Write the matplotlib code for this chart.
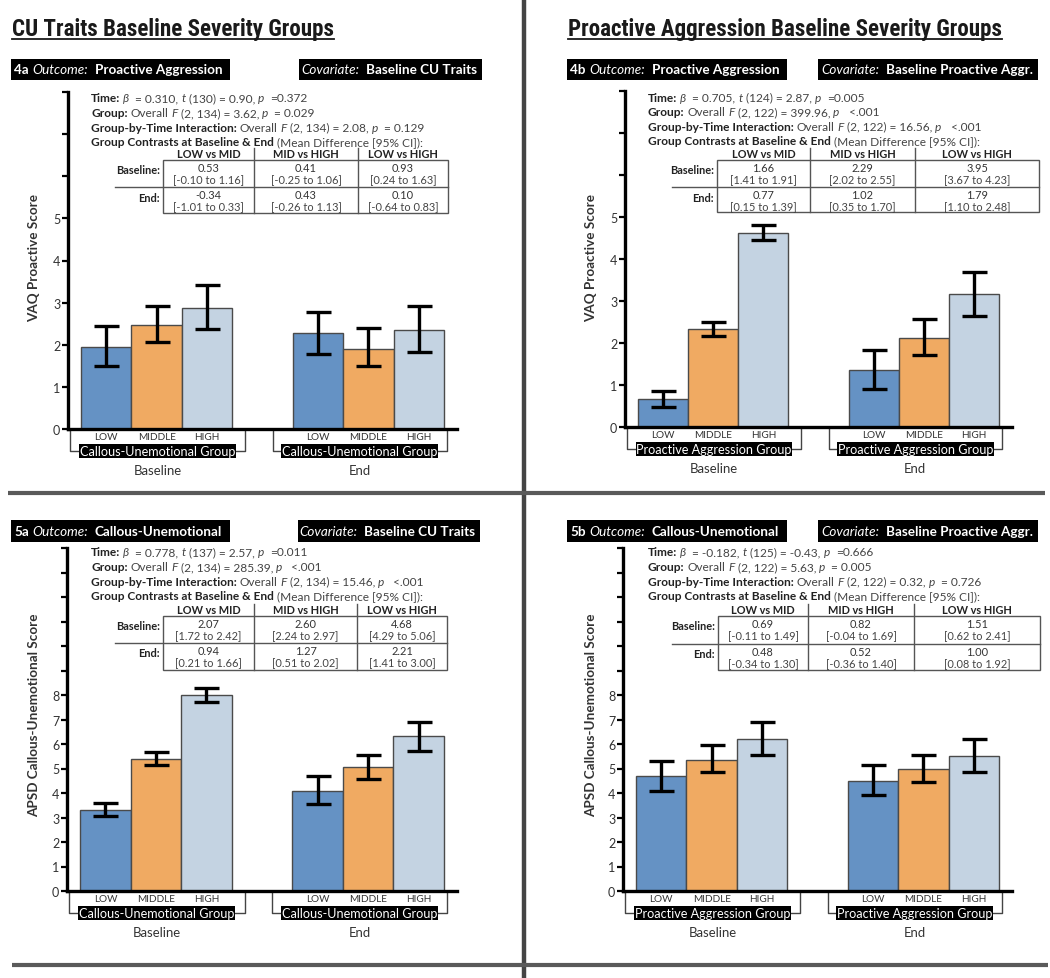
import re
import numpy as np
import matplotlib
matplotlib.use('Agg')
import matplotlib.pyplot as plt
from matplotlib import font_manager as fm
from matplotlib.font_manager import FontProperties
from matplotlib.transforms import Affine2D, blended_transform_factory
from matplotlib.patches import Rectangle

# ---------------- data ----------------
groups = ['LOW', 'MIDDLE', 'HIGH']
contrasts = ['LOW vs MID', 'MID vs HIGH', 'LOW vs HIGH']
periods = ['Baseline', 'End']

# 4a  proactive aggression by CU groups
pa_cu_base = [1.95, 2.48, 2.87]
pa_cu_base_lo = [1.49, 2.07, 2.37]
pa_cu_base_hi = [2.45, 2.93, 3.42]
pa_cu_end = [2.27, 1.91, 2.36]
pa_cu_end_lo = [1.77, 1.49, 1.83]
pa_cu_end_hi = [2.78, 2.39, 2.92]

# 4b  proactive aggression by PA groups
pa_pa_base = [0.66, 2.33, 4.62]
pa_pa_base_lo = [0.48, 2.16, 4.45]
pa_pa_base_hi = [0.86, 2.50, 4.80]
pa_pa_end = [1.36, 2.13, 3.17]
pa_pa_end_lo = [0.91, 1.71, 2.64]
pa_pa_end_hi = [1.84, 2.57, 3.68]

# 5a  CU traits by CU groups
cu_cu_base = [3.31, 5.39, 7.99]
cu_cu_base_lo = [3.07, 5.15, 7.70]
cu_cu_base_hi = [3.61, 5.66, 8.30]
cu_cu_end = [4.10, 5.06, 6.33]
cu_cu_end_lo = [3.57, 4.57, 5.73]
cu_cu_end_hi = [4.68, 5.54, 6.90]

# 5b  CU traits by PA groups
cu_pa_base = [4.70, 5.35, 6.20]
cu_pa_base_lo = [4.09, 4.84, 5.54]
cu_pa_base_hi = [5.31, 5.95, 6.89]
cu_pa_end = [4.50, 5.00, 5.50]
cu_pa_end_lo = [3.92, 4.43, 4.84]
cu_pa_end_hi = [5.16, 5.57, 6.20]

# stats text (** bold, * italic)
stats_4a = ['**Time:** *β*  = 0.310, *t* (130) = 0.90, *p*  =0.372',
            '**Group:** Overall *F* (2, 134) = 3.62, *p*  = 0.029',
            '**Group-by-Time Interaction:** Overall *F* (2, 134) = 2.08, *p*  = 0.129',
            '**Group Contrasts at Baseline & End** (Mean Difference [95% CI]):']
stats_4b = ['**Time:** *β*  = 0.705, *t* (124) = 2.87, *p*  =0.005',
            '**Group:** Overall *F* (2, 122) = 399.96, *p*   <.001',
            '**Group-by-Time Interaction:** Overall *F* (2, 122) = 16.56, *p*   <.001',
            '**Group Contrasts at Baseline & End** (Mean Difference [95% CI]):']
stats_5a = ['**Time:** *β*  = 0.778, *t* (137) = 2.57, *p*  =0.011',
            '**Group:** Overall *F* (2, 134) = 285.39, *p*   <.001',
            '**Group-by-Time Interaction:** Overall *F* (2, 134) = 15.46, *p*   <.001',
            '**Group Contrasts at Baseline & End** (Mean Difference [95% CI]):']
stats_5b = ['**Time:** *β*  = -0.182, *t* (125) = -0.43, *p*  =0.666',
            '**Group:** Overall *F* (2, 122) = 5.63, *p*  = 0.005',
            '**Group-by-Time Interaction:** Overall *F* (2, 122) = 0.32, *p*  = 0.726',
            '**Group Contrasts at Baseline & End** (Mean Difference [95% CI]):']

# contrast tables
tab_4a_base = ['0.53', '0.41', '0.93']
tab_4a_base_ci = ['[-0.10 to 1.16]', '[-0.25 to 1.06]', '[0.24 to 1.63]']
tab_4a_end = ['-0.34', '0.43', '0.10']
tab_4a_end_ci = ['[-1.01 to 0.33]', '[-0.26 to 1.13]', '[-0.64 to 0.83]']

tab_4b_base = ['1.66', '2.29', '3.95']
tab_4b_base_ci = ['[1.41 to 1.91]', '[2.02 to 2.55]', '[3.67 to 4.23]']
tab_4b_end = ['0.77', '1.02', '1.79']
tab_4b_end_ci = ['[0.15 to 1.39]', '[0.35 to 1.70]', '[1.10 to 2.48]']

tab_5a_base = ['2.07', '2.60', '4.68']
tab_5a_base_ci = ['[1.72 to 2.42]', '[2.24 to 2.97]', '[4.29 to 5.06]']
tab_5a_end = ['0.94', '1.27', '2.21']
tab_5a_end_ci = ['[0.21 to 1.66]', '[0.51 to 2.02]', '[1.41 to 3.00]']

tab_5b_base = ['0.69', '0.82', '1.51']
tab_5b_base_ci = ['[-0.11 to 1.49]', '[-0.04 to 1.69]', '[0.62 to 2.41]']
tab_5b_end = ['0.48', '0.52', '1.00']
tab_5b_end_ci = ['[-0.34 to 1.30]', '[-0.36 to 1.40]', '[0.08 to 1.92]']

# ---------------- setup ----------------
W, H = 1050, 979
fig = plt.figure(figsize=(W / 100, H / 100), dpi=100)
renderer = fig.canvas.get_renderer()

names = {f.name for f in fm.fontManager.ttflist}
def pick(*cands):
    for c in cands:
        if c in names:
            return c
    return 'DejaVu Sans'

BODY = pick('Lato', 'Open Sans', 'Noto Sans')
NARROW = pick('Liberation Sans Narrow', 'Roboto Condensed', 'Lato')
plt.rcParams['font.family'] = [BODY, 'DejaVu Sans']

bar_colors = ['#6592c4', '#f0aa62', '#c4d3e2']
x_base = [0, 1, 2]
x_end = [4.2, 5.2, 6.2]
brackets = [(-0.73, 2.76), (3.3, 6.76)]


def fprop(size, bold=False, italic=False, family=None):
    return FontProperties(family=[family or BODY, 'DejaVu Sans'], size=size,
                          weight='bold' if bold else 'normal',
                          style='italic' if italic else 'normal')


def tw(s, fp):
    w1 = renderer.get_text_width_height_descent(s + '|', fp, ismath=False)[0]
    w2 = renderer.get_text_width_height_descent('|', fp, ismath=False)[0]
    return w1 - w2


def tokens(s):
    out = []
    for t in re.split(r'(\*\*.+?\*\*|\*.+?\*)', s):
        if not t:
            continue
        if t.startswith('**'):
            out.append((t[2:-2], True, False))
        elif t.startswith('*'):
            out.append((t[1:-1], False, True))
        else:
            out.append((t, False, False))
    return out


def markup_width(s, size, family=None):
    return sum(tw(t, fprop(size, b, i, family)) for t, b, i in tokens(s))


def fit(s, target, family=None):
    return 10 * target / markup_width(s, 10, family)


def draw_runs(ax, x, y, s, size, color='#333333', bcolor=None, family=None):
    for t, b, i in tokens(s):
        fp = fprop(size, b, i, family)
        sp = tw(' ', fp)
        core = t.strip(' ')
        if not core:
            x += len(t) * sp
            continue
        x += (len(t) - len(t.lstrip(' '))) * sp
        ax.text(x, y, core, fontproperties=fp, va='center', ha='left',
                color=(bcolor or color) if b else color)
        x += tw(core, fp)
        x += (len(t) - len(t.rstrip(' '))) * sp
    return x


body_size = fit(stats_4a[2], 334)
tbl_size = fit('[-0.10 to 1.16]', 70)
hdr_size = fit('**4a** *Outcome:*  **Proactive Aggression**', 207)
title_size = fit('**CU Traits Baseline Severity Groups**', 323, NARROW)
grp_size = fit('Callous-Unemotional Group', 156)
cat_size = fit('MIDDLE', 38)
period_size = fit('Baseline', 48)
ylab_size = fit('**APSD Callous-Unemotional Score**', 203)


def bar_panel(rect, base, base_lo, base_hi, end, end_lo, end_hi, ymax, lab_max, grp_name):
    ax = fig.add_axes([rect[0] / W, 1 - rect[1] / H, rect[2] / W, rect[3] / H])
    ax.patch.set_alpha(0)
    for xs, m, lo, hi in [(x_base, base, base_lo, base_hi), (x_end, end, end_lo, end_hi)]:
        m = np.asarray(m)
        ax.bar(xs, m, width=1.0, color=bar_colors, edgecolor='#4a4a4a', linewidth=1.0, zorder=2)
        ax.errorbar(xs, m, yerr=[m - np.asarray(lo), np.asarray(hi) - m], fmt='none',
                    ecolor='black', elinewidth=2.4, capsize=9, capthick=2.4, zorder=3)
    ticks = np.arange(ymax + 1)
    ax.set_yticks(ticks)
    ax.set_yticklabels([str(v) if v <= lab_max else '' for v in ticks])
    ax.set_xticks([])
    for s in ['top', 'right']:
        ax.spines[s].set_visible(False)
    for s in ['left', 'bottom']:
        ax.spines[s].set_linewidth(2.4)
        ax.spines[s].set_color('black')
    ax.tick_params(axis='y', length=4, width=1.6, pad=1.5, labelsize=9, labelcolor='#333333')

    bottom_px = H - rect[1]
    trans = blended_transform_factory(ax.transData, Affine2D().scale(1, -1).translate(0, bottom_px))
    for (x0, x1), xs, per in zip(brackets, [x_base, x_end], periods):
        ax.plot([x0, x0, x1, x1], [0, 22, 22, 0], color='#444444', lw=1.0,
                transform=trans, clip_on=False)
        for x, g in zip(xs, groups):
            ax.text(x, 8, g, transform=trans, ha='center', va='center',
                    fontsize=cat_size, color='#333333', clip_on=False)
        ax.text((x0 + x1) / 2, 22, grp_name, transform=trans, ha='center', va='center',
                fontsize=grp_size, color='white', clip_on=False,
                bbox=dict(boxstyle='square,pad=0.06', fc='black', ec='none'))
        ax.text((x0 + x1) / 2, 41, per, transform=trans, ha='center', va='center',
                fontsize=period_size, color='#333333', clip_on=False)
    ax.set_xlim(-0.76, 6.96)
    ax.set_ylim(0, ymax)
    return ax


# rect = (left px, bottom px from top, width px, height px)
bar_panel((68, 430, 389, 337), pa_cu_base, pa_cu_base_lo, pa_cu_base_hi,
          pa_cu_end, pa_cu_end_lo, pa_cu_end_hi, 8, 5, 'Callous-Unemotional Group')
bar_panel((625, 428, 387, 336), pa_pa_base, pa_pa_base_lo, pa_pa_base_hi,
          pa_pa_end, pa_pa_end_lo, pa_pa_end_hi, 8, 5, 'Proactive Aggression Group')
bar_panel((67, 892, 390, 343), cu_cu_base, cu_cu_base_lo, cu_cu_base_hi,
          cu_cu_end, cu_cu_end_lo, cu_cu_end_hi, 14, 8, 'Callous-Unemotional Group')
bar_panel((623, 892, 389, 343), cu_pa_base, cu_pa_base_lo, cu_pa_base_hi,
          cu_pa_end, cu_pa_end_lo, cu_pa_end_hi, 14, 8, 'Proactive Aggression Group')

# ---------------- overlay (pixel coordinates) ----------------
ov = fig.add_axes([0, 0, 1, 1], zorder=10)
ov.set_xlim(0, W)
ov.set_ylim(H, 0)
ov.axis('off')
ov.patch.set_alpha(0)

# dividers
ov.plot([524, 524], [0, H], color='#444444', lw=3.2, solid_capstyle='butt')
ov.plot([8, 1045], [494, 494], color='#5a5a5a', lw=3.0, solid_capstyle='butt')
ov.plot([12, 1048], [966, 966], color='#5a5a5a', lw=3.0, solid_capstyle='butt')

# titles
for x, t in [(12, 'CU Traits Baseline Severity Groups'),
             (568, 'Proactive Aggression Baseline Severity Groups')]:
    fp = fprop(title_size, True, family=NARROW)
    ov.text(x, 36, t, fontproperties=fp, color='#1a1a1a', va='baseline', ha='left')
    ov.plot([x, x + tw(t, fp)], [39.5, 39.5], color='#1a1a1a', lw=1.3)

# y labels
for x, y, t in [(34, 258, 'VAQ Proactive Score'), (591, 258, 'VAQ Proactive Score'),
                (34, 715, 'APSD Callous-Unemotional Score'), (591, 715, 'APSD Callous-Unemotional Score')]:
    ov.text(x, y, t, fontproperties=fprop(ylab_size, True), color='#333333',
            rotation=90, ha='center', va='center')

panels = [
    dict(hx=(11, 230), cx=(299, 482), hy=(60, 81), tag='4a', out='Proactive Aggression',
         cov='Baseline CU Traits', sx=91, sy=99, stats=stats_4a,
         tl=163, cols=(254, 358), tr=448, rl=115, tt=161, tm=188, tb=214,
         tab=(tab_4a_base, tab_4a_base_ci, tab_4a_end, tab_4a_end_ci)),
    dict(hx=(567, 787), cx=(818, 1038), hy=(60, 81), tag='4b', out='Proactive Aggression',
         cov='Baseline Proactive Aggr.', sx=648, sy=98, stats=stats_4b,
         tl=717, cols=(810, 915), tr=1039, rl=672, tt=161, tm=188, tb=213,
         tab=(tab_4b_base, tab_4b_base_ci, tab_4b_end, tab_4b_end_ci)),
    dict(hx=(11, 230), cx=(298, 480), hy=(521, 543), tag='5a', out='Callous-Unemotional',
         cov='Baseline CU Traits', sx=91, sy=553, stats=stats_5a,
         tl=163, cols=(254, 357), tr=447, rl=115, tt=617, tm=644, tb=671,
         tab=(tab_5a_base, tab_5a_base_ci, tab_5a_end, tab_5a_end_ci)),
    dict(hx=(567, 787), cx=(818, 1038), hy=(521, 543), tag='5b', out='Callous-Unemotional',
         cov='Baseline Proactive Aggr.', sx=648, sy=553, stats=stats_5b,
         tl=718, cols=(808, 914), tr=1040, rl=672, tt=617, tm=645, tb=671,
         tab=(tab_5b_base, tab_5b_base_ci, tab_5b_end, tab_5b_end_ci)),
]

for p in panels:
    y0, y1 = p['hy']
    yc = (y0 + y1) / 2
    # header boxes
    for (a, b) in (p['hx'], p['cx']):
        ov.add_patch(Rectangle((a, y0), b - a, y1 - y0, fc='black', ec='none'))
    draw_runs(ov, p['hx'][0] + 3, yc, '**%s** *Outcome:*  **%s**' % (p['tag'], p['out']),
              hdr_size, color='white')
    cov = '*Covariate:*  **%s**' % p['cov']
    draw_runs(ov, p['cx'][1] - 5 - markup_width(cov, hdr_size), yc, cov, hdr_size, color='white')

    # stats lines
    for k, line in enumerate(p['stats']):
        draw_runs(ov, p['sx'], p['sy'] + 14.6 * k, line, body_size, color='#444444', bcolor='#222222')

    # table
    tl, tr, tt, tm, tb = p['tl'], p['tr'], p['tt'], p['tm'], p['tb']
    c1, c2 = p['cols']
    ov.add_patch(Rectangle((tl, tt), tr - tl, tb - tt, fc='none', ec='#555555', lw=1.0))
    for c in (c1, c2):
        ov.plot([c, c], [tt - 12, tb], color='#555555', lw=1.0)
    ov.plot([p['rl'], tr], [tm, tm], color='#555555', lw=1.0)
    centers = [(tl + c1) / 2, (c1 + c2) / 2, (c2 + tr) / 2]
    for cx, name in zip(centers, contrasts):
        ov.text(cx, tt - 6, name, fontproperties=fprop(tbl_size, True), color='#222222',
                ha='center', va='center')
    base_v, base_ci, end_v, end_ci = p['tab']
    for top, lab, vals, cis in [(tt, 'Baseline:', base_v, base_ci), (tm, 'End:', end_v, end_ci)]:
        ov.text(tl - 3, top + 10, lab, fontproperties=fprop(tbl_size, True), color='#222222',
                ha='right', va='center')
        for cx, v, ci in zip(centers, vals, cis):
            ov.text(cx, top + 7.5, v, fontproperties=fprop(tbl_size), color='#333333',
                    ha='center', va='center')
            ov.text(cx, top + 19.5, ci, fontproperties=fprop(tbl_size), color='#444444',
                    ha='center', va='center')

fig.savefig('out.png', dpi=100, facecolor='white')
